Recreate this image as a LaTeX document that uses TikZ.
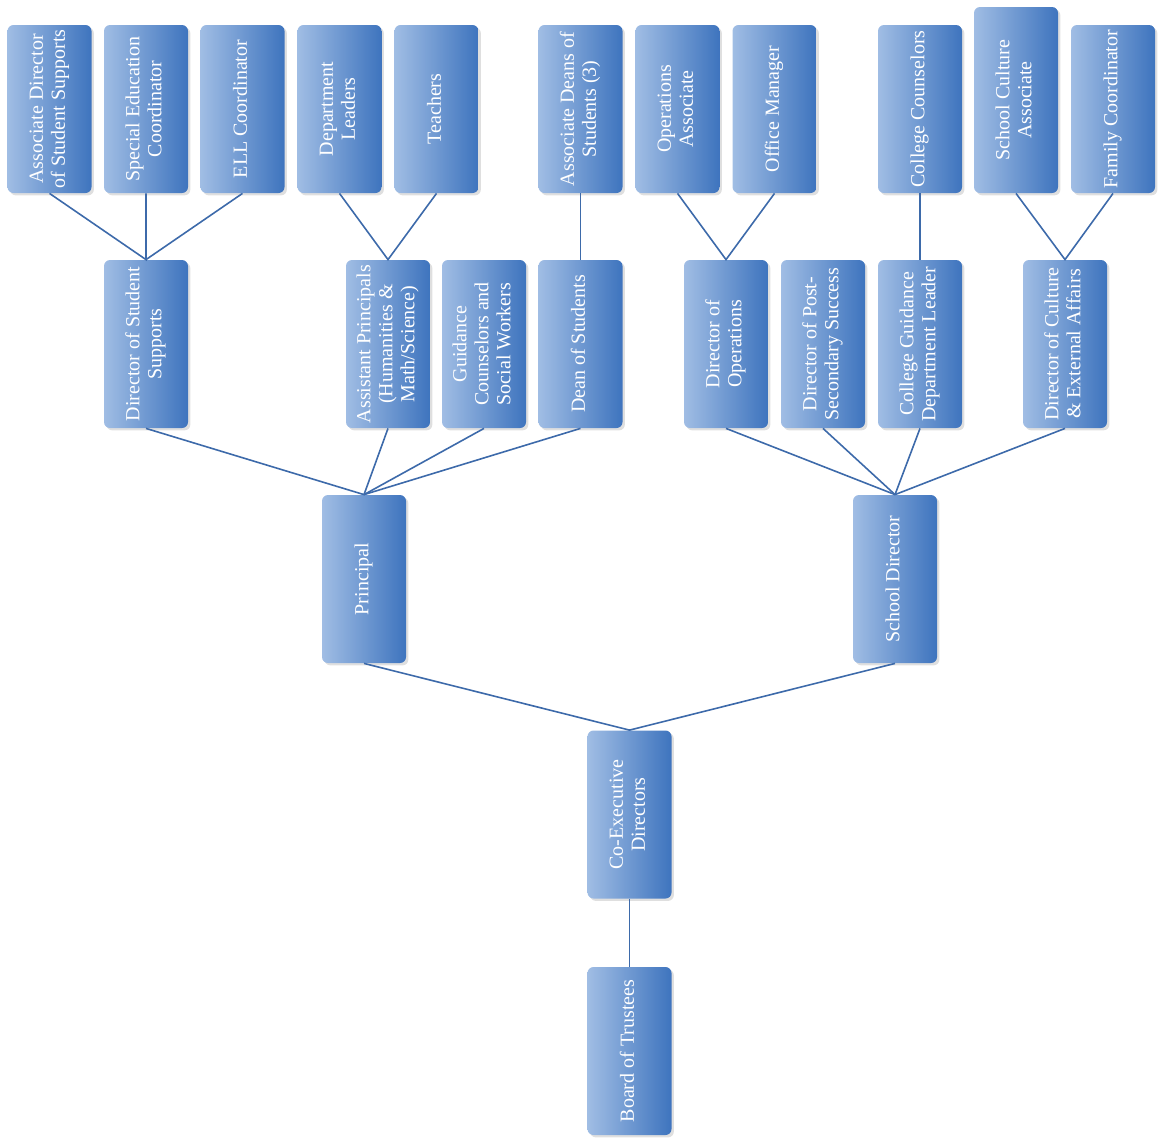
\documentclass[tikz,border=0pt]{standalone}
\usepackage{fontspec}
\usepackage{graphicx}
\setmainfont{Liberation Serif}
\usetikzlibrary{shadows}

\definecolor{boxL}{RGB}{160,189,228}
\definecolor{boxR}{RGB}{62,116,190}
\definecolor{linea}{RGB}{61,106,170}

\newcommand{\vtxt}[1]{\rotatebox{90}{\begin{tabular}{@{}c@{}}#1\end{tabular}}}

\tikzset{
	cargo/.style={rounded corners=3pt, left color=boxL, right color=boxR, text=white,
		minimum width=42pt, minimum height=84pt, inner sep=0pt,
		font=\fontsize{10}{11}\selectfont,
		drop shadow={opacity=0.25, shadow xshift=1.2pt, shadow yshift=-1.2pt}},
	enlace/.style={draw=linea, line width=0.8pt}
}

\begin{document}
\begin{tikzpicture}[x=0.5pt, y=-0.5pt]
		\useasboundingbox (0,0) rectangle (1159,1142);

		% Fila superior
			\node[cargo] (asd) at (49.5,109) {\vtxt{Associate Director\\of Student Supports}};
			\node[cargo] (sec) at (146,109) {\vtxt{Special Education\\Coordinator}};
			\node[cargo] (ell) at (242.5,109) {\vtxt{ELL Coordinator}};
			\node[cargo] (dl) at (339.5,109) {\vtxt{Department\\Leaders}};
			\node[cargo] (tea) at (436.5,109) {\vtxt{Teachers}};
			\node[cargo] (ads) at (580.5,109) {\vtxt{Associate Deans of\\Students (3)}};
			\node[cargo] (opa) at (677.5,109) {\vtxt{Operations\\Associate}};
			\node[cargo] (om) at (774.5,109) {\vtxt{Office Manager}};
			\node[cargo] (cc) at (920,109) {\vtxt{College Counselors}};
			\node[cargo, minimum height=93pt] (sca) at (1016,100) {\vtxt{School Culture\\Associate}};
			\node[cargo] (fc) at (1113,109) {\vtxt{Family Coordinator}};

		% Segunda fila
			\node[cargo] (dss) at (146,344) {\vtxt{Director of Student\\Supports}};
			\node[cargo] (ap) at (388,344) {\vtxt{Assistant Principals\\(Humanities \&\\Math/Science)}};
			\node[cargo] (gc) at (484,344) {\vtxt{Guidance\\Counselors and\\Social Workers}};
			\node[cargo] (dos) at (580.5,344) {\vtxt{Dean of Students}};
			\node[cargo] (dops) at (726,344) {\vtxt{Director of\\Operations}};
			\node[cargo] (dps) at (823,344) {\vtxt{Director of Post-\\Secondary Success}};
			\node[cargo] (cgd) at (920,344) {\vtxt{College Guidance\\Department Leader}};
			\node[cargo] (dcea) at (1065,344) {\vtxt{Director of Culture\\\& External Affairs}};

		% Direccion
			\node[cargo] (pri) at (364,579) {\vtxt{Principal}};
			\node[cargo] (sd) at (895,579) {\vtxt{School Director}};
			\node[cargo] (ced) at (629.5,814.5) {\vtxt{Co-Executive\\Directors}};
			\node[cargo] (bt) at (629.5,1051) {\vtxt{Board of Trustees}};

		% Lineas
			\draw[enlace] (asd.south) -- (dss.north) -- (sec.south);
			\draw[enlace] (ell.south) -- (dss.north);
			\draw[enlace] (dl.south) -- (ap.north) -- (tea.south);
			\draw[enlace] (ads.south) -- (dos.north);
			\draw[enlace] (opa.south) -- (dops.north) -- (om.south);
			\draw[enlace] (cc.south) -- (cgd.north);
			\draw[enlace] (sca.south) -- (dcea.north) -- (fc.south);
			\draw[enlace] (dss.south) -- (pri.north);
			\draw[enlace] (ap.south) -- (pri.north);
			\draw[enlace] (gc.south) -- (pri.north);
			\draw[enlace] (dos.south) -- (pri.north);
			\draw[enlace] (dops.south) -- (sd.north);
			\draw[enlace] (dps.south) -- (sd.north);
			\draw[enlace] (cgd.south) -- (sd.north);
			\draw[enlace] (dcea.south) -- (sd.north);
			\draw[enlace] (pri.south) -- (ced.north) -- (sd.south);
			\draw[enlace] (ced.south) -- (bt.north);
	\end{tikzpicture}
\end{document}
